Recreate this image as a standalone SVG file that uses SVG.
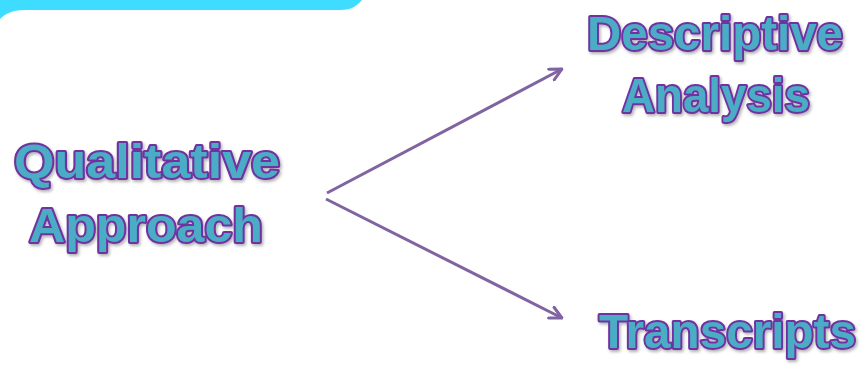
<svg xmlns="http://www.w3.org/2000/svg" width="865" height="365" viewBox="0 0 865 365">
  <style>
    .lbl { font-family: "Liberation Sans", "Open Sans", sans-serif; font-weight: 700; font-size: 49px; fill: #4BACC6; stroke: #7030A0; stroke-width: 4; stroke-linejoin: round; paint-order: stroke; filter: url(#sh); }
    .conn { stroke: #8064A2; stroke-width: 3; fill: none; marker-end: url(#arr); }
  </style>
  <defs>
    <filter id="sh" x="-10%" y="-20%" width="120%" height="150%">
      <feDropShadow dx="1.5" dy="2" stdDeviation="1.5" flood-color="#000" flood-opacity="0.3"/>
    </filter>
    <marker id="arr" viewBox="0 0 10 10" refX="9" refY="5" markerWidth="5" markerHeight="5" orient="auto" markerUnits="strokeWidth">
      <path d="M1,1 L9,5 L1,9" fill="none" stroke="#8064A2" stroke-width="2" stroke-linecap="round" stroke-linejoin="round"/>
    </marker>
  </defs>
  <rect width="865" height="365" fill="#fff"/>
  <path d="M0,0 H362 C356,7 350,10 340,10 H24 C12,10 5,14 0,19 Z" fill="#3EDCFE"/>
  <g id="connectors">
    <line class="conn" x1="327" y1="193" x2="562" y2="69"/>
    <line class="conn" x1="326" y1="199" x2="562" y2="318"/>
  </g>
  <g id="qualitative">
    <text class="lbl" x="14" y="178" textLength="266" lengthAdjust="spacingAndGlyphs">Qualitative</text>
    <text class="lbl" x="29" y="242" textLength="234" lengthAdjust="spacingAndGlyphs">Approach</text>
  </g>
  <g id="descriptive">
    <text class="lbl" x="587" y="50" textLength="256" lengthAdjust="spacingAndGlyphs">Descriptive</text>
    <text class="lbl" x="622" y="112" textLength="188" lengthAdjust="spacingAndGlyphs">Analysis</text>
  </g>
  <g id="transcripts">
    <text class="lbl" x="599" y="348" textLength="257" lengthAdjust="spacingAndGlyphs">Transcripts</text>
  </g>
</svg>
